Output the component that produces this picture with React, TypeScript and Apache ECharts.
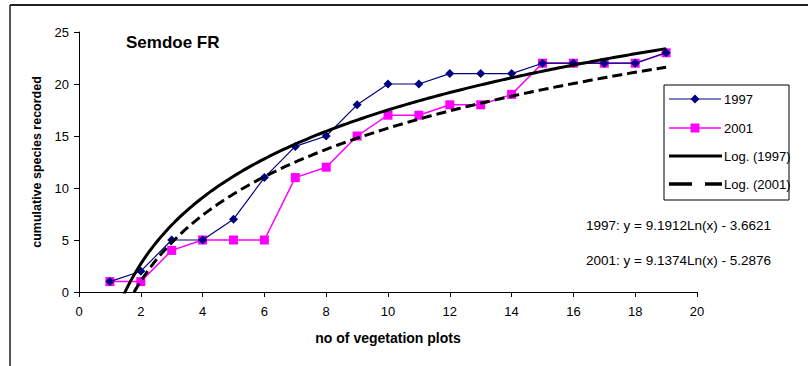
import React, { useEffect, useRef } from "react";
import * as echarts from "echarts";

const plots = [1, 2, 3, 4, 5, 6, 7, 8, 9, 10, 11, 12, 13, 14, 15, 16, 17, 18, 19];
const species1997 = [1, 2, 5, 5, 7, 11, 14, 15, 18, 20, 20, 21, 21, 21, 22, 22, 22, 22, 23];
const species2001 = [1, 1, 4, 5, 5, 5, 11, 12, 15, 17, 17, 18, 18, 19, 22, 22, 22, 22, 23];
// logarithmic trend coefficients shown on the chart: y = a*ln(x) + b
const trend1997 = [9.1912, -3.6621];
const trend2001 = [9.1374, -5.2876];
const xTicks = [0, 20, 2];
const yTicks = [0, 25, 5];

const FONT = "'Liberation Sans', Arial, sans-serif";

function trendPoints(c: number[]) {
  const pts: number[][] = [];
  for (let i = 0; i <= 180; i++) {
    const x = 1 + i * 0.1;
    pts.push([x, c[0] * Math.log(x) + c[1]]);
  }
  return pts;
}

export default function App() {
  const ref = useRef<HTMLDivElement>(null);
  useEffect(() => {
    if (!ref.current) return;
    const chart = echarts.init(ref.current, null, { renderer: "svg" });
    const lx = 664;
    const ly = 85;
    const rowY = [99, 128, 156, 184];
    chart.setOption({
      animation: false,
      backgroundColor: "#fff",
      textStyle: { fontFamily: FONT },
      grid: { left: 79, right: 111, top: 32, bottom: 74, containLabel: false },
      xAxis: {
        type: "value",
        min: xTicks[0],
        max: xTicks[1],
        interval: xTicks[2],
        name: "no of vegetation plots",
        nameLocation: "middle",
        nameGap: 39,
        nameTextStyle: { fontSize: 14, fontWeight: "bold", color: "#000", fontFamily: FONT },
        axisLine: { lineStyle: { color: "#000", width: 1 } },
        axisTick: { show: true, length: 5, lineStyle: { color: "#000" } },
        axisLabel: { fontSize: 13, color: "#000", margin: 13, fontFamily: FONT },
        splitLine: { show: false },
      },
      yAxis: {
        type: "value",
        min: yTicks[0],
        max: yTicks[1],
        interval: yTicks[2],
        name: "cumulative species recorded",
        nameLocation: "middle",
        nameGap: 35,
        nameTextStyle: { fontSize: 12.5, fontWeight: "bold", color: "#000", fontFamily: FONT },
        axisLine: { show: true, lineStyle: { color: "#000", width: 1 } },
        axisTick: { show: true, length: 5, lineStyle: { color: "#000" } },
        axisLabel: { fontSize: 13, color: "#000", margin: 10, fontFamily: FONT },
        splitLine: { show: false },
      },
      series: [
        {
          name: "1997",
          type: "line",
          data: plots.map((x, i) => [x, species1997[i]]),
          symbol: "diamond",
          symbolSize: 9,
          itemStyle: { color: "#000080" },
          lineStyle: { color: "#000080", width: 1.2 },
          z: 3,
        },
        {
          name: "2001",
          type: "line",
          data: plots.map((x, i) => [x, species2001[i]]),
          symbol: "rect",
          symbolSize: 9,
          itemStyle: { color: "#FF00FF" },
          lineStyle: { color: "#FF00FF", width: 1.5 },
          z: 2,
        },
        {
          name: "Log. (1997)",
          type: "line",
          data: trendPoints(trend1997),
          showSymbol: false,
          symbol: "none",
          clip: true,
          lineStyle: { color: "#000", width: 3 },
          z: 4,
        },
        {
          name: "Log. (2001)",
          type: "line",
          data: trendPoints(trend2001),
          showSymbol: false,
          symbol: "none",
          clip: true,
          lineStyle: { color: "#000", width: 3, type: [10, 5] },
          z: 4,
        },
      ],
      graphic: [
        { type: "line", shape: { x1: 10, y1: 5, x2: 808, y2: 5 }, style: { stroke: "#222", lineWidth: 2 } },
        { type: "line", shape: { x1: 10, y1: 5, x2: 10, y2: 366 }, style: { stroke: "#222", lineWidth: 1.5 } },
        {
          type: "text",
          left: 126,
          top: 34,
          style: { text: "Semdoe FR", font: `bold 17px ${FONT}`, fill: "#000" },
        },
        {
          type: "rect",
          shape: { x: lx, y: ly, width: 125, height: 115 },
          style: { fill: "#fff", stroke: "#000", lineWidth: 1 },
          z: 10,
        },
        { type: "line", shape: { x1: 669, y1: rowY[0], x2: 721, y2: rowY[0] }, style: { stroke: "#000080", lineWidth: 1.2 }, z: 11 },
        { type: "polygon", shape: { points: [[695, rowY[0] - 4.5], [699.5, rowY[0]], [695, rowY[0] + 4.5], [690.5, rowY[0]]] }, style: { fill: "#000080" }, z: 11 },
        { type: "line", shape: { x1: 669, y1: rowY[1], x2: 721, y2: rowY[1] }, style: { stroke: "#FF00FF", lineWidth: 1.5 }, z: 11 },
        { type: "rect", shape: { x: 690.5, y: rowY[1] - 4.5, width: 9, height: 9 }, style: { fill: "#FF00FF" }, z: 11 },
        { type: "line", shape: { x1: 669, y1: rowY[2], x2: 722, y2: rowY[2] }, style: { stroke: "#000", lineWidth: 3 }, z: 11 },
        { type: "line", shape: { x1: 669, y1: rowY[3], x2: 722, y2: rowY[3] }, style: { stroke: "#000", lineWidth: 3.5, lineDash: [23, 13] }, z: 11 },
        ...["1997", "2001", "Log. (1997)", "Log. (2001)"].map((t, i) => ({
          type: "text",
          x: 724,
          y: rowY[i],
          z: 11,
          style: { text: t, font: `13px ${FONT}`, fill: "#000", verticalAlign: "middle" },
        })),
        {
          type: "text",
          x: 586,
          y: 225,
          style: {
            text: `1997: y = ${trend1997[0].toFixed(4)}Ln(x) - ${Math.abs(trend1997[1]).toFixed(4)}`,
            font: `13.5px ${FONT}`,
            fill: "#000",
            verticalAlign: "middle",
          },
        },
        {
          type: "text",
          x: 586,
          y: 260,
          style: {
            text: `2001: y = ${trend2001[0].toFixed(4)}Ln(x) - ${Math.abs(trend2001[1]).toFixed(4)}`,
            font: `13.5px ${FONT}`,
            fill: "#000",
            verticalAlign: "middle",
          },
        },
      ],
    });
    return () => chart.dispose();
  }, []);
  return (
    <div
      ref={ref}
      style={{ position: "fixed", left: 0, top: 0, width: 808, height: 366, background: "#fff" }}
    />
  );
}
